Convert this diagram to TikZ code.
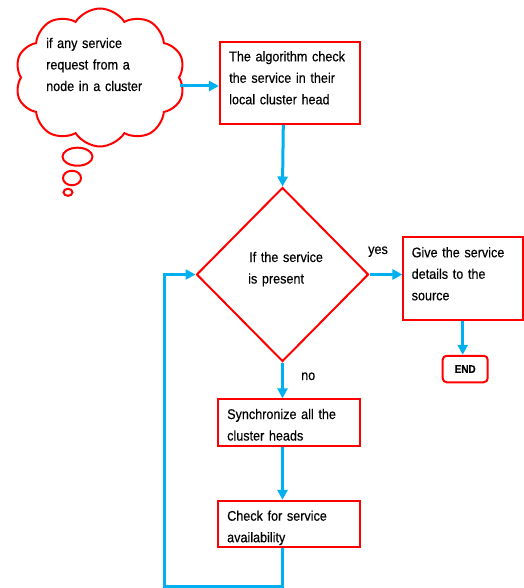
\documentclass[tikz,border=0pt]{standalone}
\usepackage{fontspec}
\setmainfont{Liberation Sans}[FakeStretch=0.9,FakeBold=0.4]
\usetikzlibrary{shapes.geometric,shapes.symbols,arrows.meta}
\definecolor{cred}{RGB}{255,0,0}
\definecolor{cblue}{RGB}{0,176,240}
\begin{document}
\begin{tikzpicture}[x=1pt,y=-1pt,
  redline/.style={draw=cred,line width=2pt},
  box/.style={redline,rectangle,inner sep=0pt},
  txt/.style={anchor=base west,inner sep=0pt,align=left,text width=140pt,
    font=\fontsize{14}{21.5}\selectfont},
  flow/.style={draw=cblue,line width=3pt,-{Triangle[length=10pt,width=10pt]}},
  bubble/.style={redline,ellipse,inner sep=0pt}
]
\useasboundingbox (0,0) rectangle (523,588);
% thought cloud
\node[cloud, cloud puffs=10, cloud puff arc=115, cloud ignores aspect,
  minimum width=170, minimum height=138, inner sep=0pt, redline] (cl) at (100,77.5) {};
\node[txt] (clt) at (46,48) {if any service\\request from a\\node in a cluster};
\node[bubble, minimum width=30, minimum height=18] (e1) at (77.5,156.7) {};
\node[bubble, minimum width=18, minimum height=14.5] (e2) at (72,178) {};
\node[bubble, minimum width=9, minimum height=7] (e3) at (68,192.3) {};
% box 1
\node[box, minimum width=140, minimum height=82] (b1) at (290,83) {};
\node[txt] (b1t) at (229,61.3) {The algorithm check\\the service in their\\local cluster head};
% diamond
\node[diamond, redline, inner sep=0pt, minimum width=172, minimum height=174] (dia) at (282.5,274.5) {};
\node[txt] (diat) at (248,262) {\hspace*{1pt}If the service\\is present};
% box 2
\node[box, minimum width=119.5, minimum height=83.3] (b2) at (463.2,278.3) {};
\node[txt] (b2t) at (411.5,257.3) {Give the service\\details to the\\source};
% END
\node[redline, rectangle, rounded corners=4pt, minimum width=45, minimum height=26.5,
  inner sep=0pt, font=\bfseries\fontsize{11}{13}\selectfont] (end) at (465.2,369) {END};
% box 3
\node[box, minimum width=142.3, minimum height=46.4] (b3) at (288.8,422.5) {};
\node[txt] (b3t) at (227,419) {Synchronize all the\\cluster heads};
% box 4
\node[box, minimum width=142.3, minimum height=46.4] (b4) at (288.8,524) {};
\node[txt] (b4t) at (227,520.7) {Check for service\\availability};
% labels
\node[txt, text width=30pt] (yes) at (368,254) {yes};
\node[txt, text width=30pt] (no) at (301,380) {no};
% connectors
\coordinate (loop) at (164,586.5);
\draw[flow] (cl.east |- 0,86) -- (b1.west |- 0,86);
\draw[flow] (b1.south -| 283.3,0) -- (dia.north);
\draw[flow] (dia.east) -- (b2.west |- dia.east);
\draw[flow] (b2.south -| 462.7,0) -- (end.north -| 462.7,0);
\draw[flow] (dia.south) -- (b3.north -| dia.south);
\draw[flow] (b3.south -| dia.south) -- (b4.north -| dia.south);
\draw[flow] (b4.south -| dia.south) |- (loop) |- (dia.west);
\end{tikzpicture}
\end{document}
